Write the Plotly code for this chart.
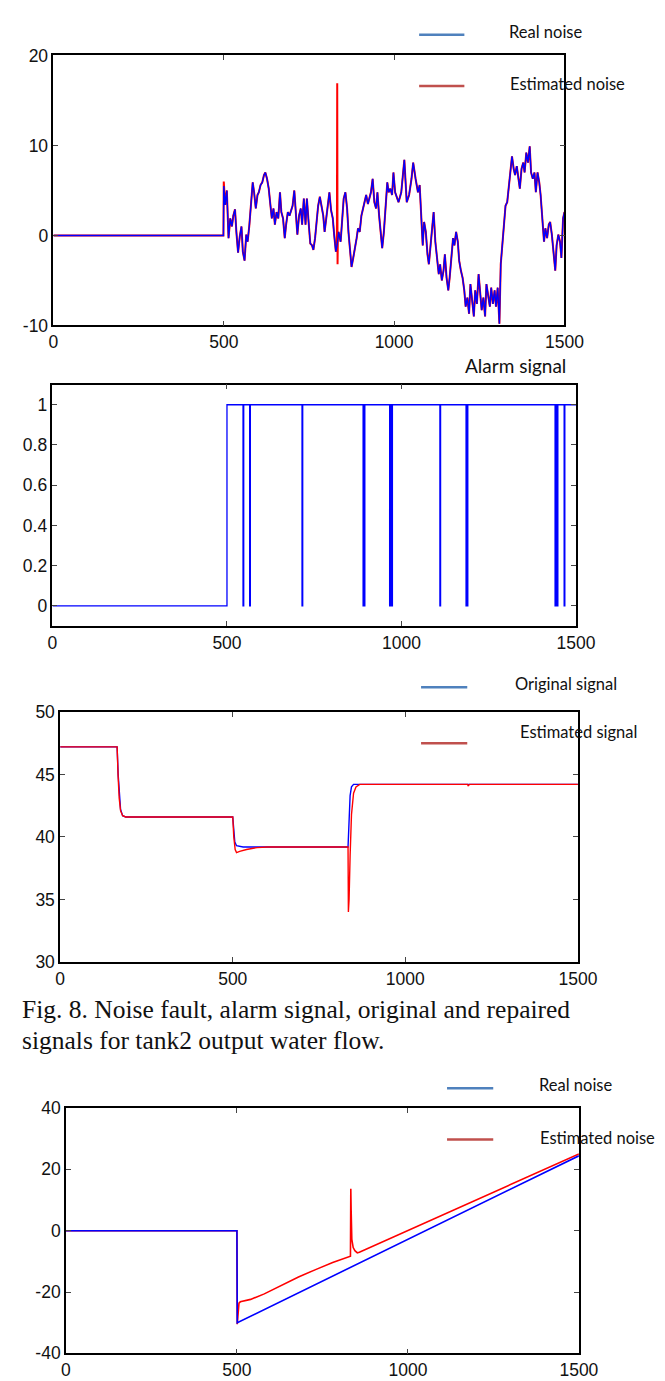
import plotly.graph_objects as go

W, H = 665, 1381

# ---- panel 1: noise fault (real vs estimated)
noise_t = [0, 499, 500, 504, 509, 514, 519, 524, 528, 533, 537, 542, 547, 552, 556, 561, 566, 570,
           575, 580, 585, 589, 594, 599, 603, 608, 613, 618, 622, 627, 632, 636, 641, 646, 650, 655,
           660, 665, 669, 674, 679, 683, 688, 693, 698, 702, 707, 712, 716, 721, 726, 730, 735, 740,
           744, 749, 754, 759, 763, 768, 773, 777, 782, 787, 792, 796, 801, 806, 810, 815, 820, 824,
           829, 833, 837, 843, 847, 852, 857, 862, 866, 871, 875, 880, 885, 890, 894, 899, 904, 909,
           913, 918, 923, 927, 932, 937, 942, 947, 951, 956, 960, 965, 970, 975, 980, 984, 989, 994,
           998, 1003, 1008, 1013, 1021, 1030, 1037, 1044, 1051, 1056, 1063, 1070, 1075, 1079, 1084,
           1088, 1093, 1098, 1102, 1107, 1112, 1116, 1121, 1126, 1131, 1135, 1140, 1145, 1149, 1154,
           1159, 1163, 1168, 1173, 1177, 1182, 1187, 1191, 1196, 1201, 1206, 1210, 1215, 1220, 1224,
           1229, 1234, 1238, 1243, 1248, 1252, 1257, 1262, 1267, 1271, 1276, 1281, 1285, 1290, 1295,
           1299, 1304, 1309, 1313, 1318, 1323, 1327, 1332, 1337, 1341, 1346, 1351, 1355, 1360, 1365,
           1369, 1374, 1379, 1383, 1388, 1393, 1398, 1402, 1407, 1412, 1416, 1421, 1426, 1430, 1435,
           1440, 1444, 1449, 1454, 1458, 1463, 1468, 1473, 1477, 1482, 1487, 1491, 1496, 1500]
real_noise = [0, 0, 5.5, 3.4, 5.0, -0.3, 1.9, 1.0, 2.2, 2.9, 0.4, -1.9, -0.1, 1.0, -1.8, -2.8, 0.1, -0.7,
              1.1, 3.7, 5.9, 4.8, 3.0, 4.5, 4.8, 5.6, 5.9, 6.7, 7.0, 6.3, 5.2, 3.7, 1.9, 3.0, 1.2, 2.6,
              1.9, 4.8, 2.6, 1.9, -0.3, 1.2, 2.6, 2.2, 3.0, 3.3, 5.0, 1.9, 0.1, 2.2, 3.0, 1.2, 4.1, 1.2,
              4.1, 1.5, -0.9, -1.1, -1.6, -0.3, 1.9, 3.3, 4.3, 3.0, 2.2, 0.4, 2.2, 3.7, 4.8, 2.8, 1.9, 0.1,
              -1.8, -1.0, 0.4, -0.7, 1.9, 4.1, 4.8, 3.0, 0.4, -1.4, -3.5, -2.5, -1.1, -0.3, 0.8, 0.4, 2.2, 3.0,
              3.7, 4.5, 3.5, 4.1, 4.8, 6.3, 3.7, 3.0, 4.8, 2.2, 0.4, -1.4, 0.4, 3.7, 5.9, 4.8, 5.2, 4.5,
              7.0, 4.8, 4.1, 3.7, 4.8, 8.4, 3.7, 4.5, 6.3, 8.1, 6.3, 4.8, 5.6, 1.9, -1.1,
              1.5, 0.4, -2.1, -3.2, -1.1, 1.2, 2.6, -0.7, -2.5, -4.3, -3.2, -5.0, -3.9, -2.1, -4.7,
              -6.1, -4.7, -2.1, -0.3, -1.1, 0.4, -0.7, -2.8, -3.9, -4.7, -6.1, -7.9, -6.9, -8.7, -5.4,
              -7.6, -9.0, -6.1, -7.6, -4.3, -6.1, -8.3, -6.9, -9.0, -5.4, -6.9, -7.9, -5.8, -7.6, -6.1,
              -7.9, -5.8, -9.8, -3.2, -1.1, 1.2, 3.3, 3.7, 5.6, 7.0, 8.8, 7.4, 6.7, 7.7, 6.3,
              5.2, 7.4, 8.1, 7.0, 9.2, 8.1, 9.9, 7.0, 6.3, 7.0, 4.8, 7.0, 5.9, 4.5, 1.2,
              -0.7, 0.8, -0.3, 1.2, 1.5, 0.1, -1.8, -3.9, -1.1, 0.1, -0.7, -2.5, 1.9, 2.6]
# estimated noise differs from the real one only at the start and the spike near 833
est_noise_patch_t = [500, 832, 833, 834, 835]
est_noise_patch_v = [6.0, -1.5, 16.9, -3.2, 0.2]

# ---- panel 2: alarm signal
alarm_t = [0, 500, 546, 548, 565, 567, 715, 717, 890, 892, 893, 895, 966, 968, 969, 971, 972, 974,
           1110, 1112, 1185, 1187, 1188, 1190, 1440, 1442, 1443, 1445, 1446, 1448, 1466, 1468, 1500]
alarm_v = [0, 1, 0, 1, 0, 1, 0, 1, 0, 1, 0, 1, 0, 1, 0, 1, 0, 1,
           0, 1, 0, 1, 0, 1, 0, 1, 0, 1, 0, 1, 0, 1, 1]

# ---- panel 3: original vs estimated signal
orig_t = [0, 165, 168, 171, 175, 181, 190, 500, 503, 506, 511, 530, 834, 837, 840, 844, 850, 1500]
orig_v = [47.2, 47.2, 45.0, 43.3, 42.2, 41.7, 41.6, 41.6, 40.3, 39.6, 39.3, 39.2, 39.2, 41.8, 43.3,
          44.0, 44.2, 44.2]
est_sig_t = [0, 165, 168, 171, 175, 181, 190, 500, 503, 507, 511, 520, 540, 570, 600, 834, 835, 837,
             840, 844, 850, 857, 868, 1180, 1182, 1186, 1500]
est_sig_v = [47.2, 47.2, 44.8, 43.1, 42.1, 41.7, 41.6, 41.6, 40.0, 39.0, 38.75, 38.85, 39.0, 39.15,
             39.2, 39.2, 34.0, 35.0, 38.5, 41.8, 43.5, 44.0, 44.2, 44.2, 44.1, 44.2, 44.2]

# ---- panel 4: drift fault
real4_t = [0, 500, 501, 1500]
real4_v = [0, 0, -30.0, 24.4]
est4_t = [0, 500, 501, 503, 506, 510, 540, 580, 630, 680, 730, 780, 832, 833, 834, 836, 840, 845,
          852, 858, 1500]
est4_v = [0, 0, -30.5, -27.0, -23.6, -23.2, -22.4, -20.6, -17.9, -15.1, -12.7, -10.4, -8.3, 13.7, 6.7,
          -2.8, -5.5, -6.5, -7.2, -7.0, 25.0]

# tick labels (hyphen minus, as in the original figure)
x_ticks = [0, 500, 1000, 1500]
y1_ticks, y1_text = [-10, 0, 10, 20], ["-10", "0", "10", "20"]
y2_ticks, y2_text = [0, 0.2, 0.4, 0.6, 0.8, 1], ["0", "0.2", "0.4", "0.6", "0.8", "1"]
y3_ticks, y3_text = [30, 35, 40, 45, 50], ["30", "35", "40", "45", "50"]
y4_ticks, y4_text = [-40, -20, 0, 20, 40], ["-40", "-20", "0", "20", "40"]

BLUE = "#0000FF"
RED = "#FF0000"
LEG_BLUE = "#4F81BD"
LEG_RED = "#C0504D"
TICK_FONT = dict(family="Liberation Sans Narrow, Liberation Sans, Arial", size=17.5, color="#111111")
LABEL_FONT = dict(family="Lato, Open Sans, sans-serif", size=16.5, color="#111111")


def px_x(x):
    return x / W


def px_y(y):
    return 1 - y / H


# merge the patch into the estimated noise
est_map = dict(zip(noise_t, real_noise))
est_map.update(zip(est_noise_patch_t, est_noise_patch_v))
est_noise_t = sorted(est_map)
est_noise_v = [est_map[t] for t in est_noise_t]

fig = go.Figure()
fig.add_trace(go.Scatter(x=est_noise_t, y=est_noise_v, mode="lines", line=dict(color=RED, width=2),
                         xaxis="x", yaxis="y"))
fig.add_trace(go.Scatter(x=noise_t, y=real_noise, mode="lines", line=dict(color=BLUE, width=1.4),
                         xaxis="x", yaxis="y"))
fig.add_trace(go.Scatter(x=alarm_t, y=alarm_v, mode="lines", line=dict(color=BLUE, width=1.3, shape="hv"),
                         xaxis="x2", yaxis="y2"))
fig.add_trace(go.Scatter(x=orig_t, y=orig_v, mode="lines", line=dict(color=BLUE, width=1.4),
                         xaxis="x3", yaxis="y3"))
fig.add_trace(go.Scatter(x=est_sig_t, y=est_sig_v, mode="lines", line=dict(color=RED, width=1.4),
                         xaxis="x3", yaxis="y3"))
fig.add_trace(go.Scatter(x=est4_t, y=est4_v, mode="lines", line=dict(color=RED, width=1.6),
                         xaxis="x4", yaxis="y4"))
fig.add_trace(go.Scatter(x=real4_t, y=real4_v, mode="lines", line=dict(color=BLUE, width=1.6),
                         xaxis="x4", yaxis="y4"))


def axis(domain, rng, tickvals, ticktext, anchor):
    return dict(domain=domain, range=rng, tickmode="array", tickvals=tickvals, ticktext=ticktext,
                anchor=anchor, showline=True, linecolor="black", linewidth=1.6, mirror="ticks",
                ticks="inside", ticklen=5, tickwidth=1, tickcolor="#444444",
                showgrid=False, zeroline=False, tickfont=TICK_FONT)


# box positions in pixels: (left, top, right, bottom)
boxes = [(42, 38, 573, 312), (41, 372, 585, 617), (49, 704, 587, 958), (55, 1106, 588, 1355)]
yaxes = [([-10, 20], y1_ticks, y1_text), ([-0.1, 1.1], y2_ticks, y2_text),
         ([30, 50], y3_ticks, y3_text), ([-40, 40], y4_ticks, y4_text)]

layout = dict(width=W, height=H, margin=dict(l=0, r=0, t=0, b=0), showlegend=False,
              paper_bgcolor="white", plot_bgcolor="white")
for i, ((l, t, r, b), (yr, tv, tt)) in enumerate(zip(boxes, yaxes)):
    sfx = "" if i == 0 else str(i + 1)
    layout["xaxis" + sfx] = axis([px_x(l), px_x(r)], [0, 1500], x_ticks,
                                 [str(v) for v in x_ticks], "y" + sfx)
    layout["yaxis" + sfx] = axis([px_y(b), px_y(t)], yr, tv, tt, "x" + sfx)

shapes = []
annotations = []


def legend_entry(x0, x1, y_line, color, text, tx, ty):
    shapes.append(dict(type="line", xref="paper", yref="paper", x0=px_x(x0), x1=px_x(x1),
                       y0=px_y(y_line), y1=px_y(y_line), line=dict(color=color, width=2.5)))
    annotations.append(dict(text=text, xref="paper", yref="paper", x=px_x(tx), y=px_y(ty),
                            xanchor="left", yanchor="middle", showarrow=False, font=LABEL_FONT))


legend_entry(422, 469, 17, LEG_BLUE, "Real noise", 513, 14)
legend_entry(422, 469, 69, LEG_RED, "Estimated noise", 514, 67)
legend_entry(424, 472, 679, LEG_BLUE, "Original signal", 520, 676)
legend_entry(424, 472, 736, LEG_RED, "Estimated signal", 525, 724)
legend_entry(451, 499, 1086, LEG_BLUE, "Real noise", 544, 1083)
legend_entry(451, 499, 1138, LEG_RED, "Estimated noise", 545, 1136)

annotations.append(dict(text="Alarm signal", xref="paper", yref="paper", x=px_x(577), y=px_y(353),
                        xanchor="right", yanchor="middle", showarrow=False,
                        font=dict(LABEL_FONT, size=19)))

CAP_FONT = dict(family="Liberation Serif, Times New Roman, serif", size=25.5, color="#111111")
annotations.append(dict(text="Fig. 8. Noise fault, alarm signal, original and repaired", xref="paper",
                        yref="paper", x=px_x(7), y=px_y(1006), xanchor="left", yanchor="middle",
                        showarrow=False, font=CAP_FONT))
annotations.append(dict(text="signals for tank2 output water flow.", xref="paper",
                        yref="paper", x=px_x(7), y=px_y(1038), xanchor="left", yanchor="middle",
                        showarrow=False, font=CAP_FONT))

layout["shapes"] = shapes
layout["annotations"] = annotations
fig.update_layout(**layout)

fig.write_html("out.html")
